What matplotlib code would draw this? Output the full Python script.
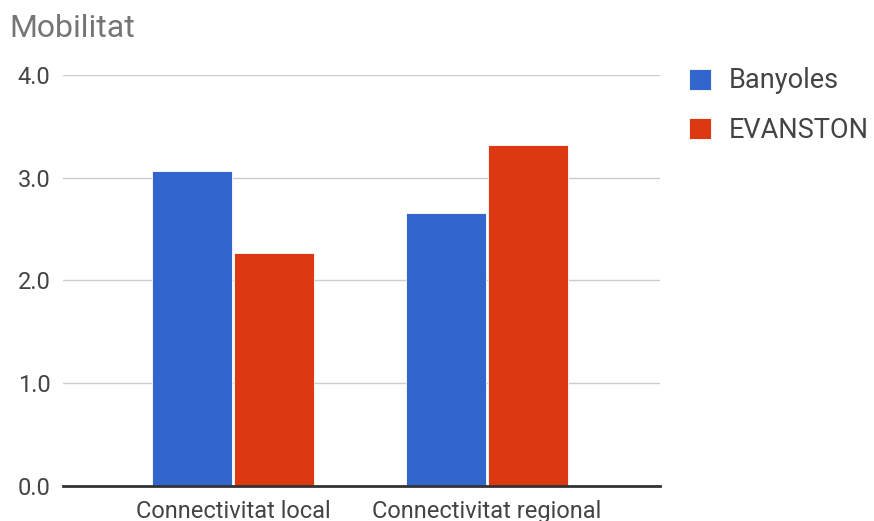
import matplotlib
matplotlib.use("Agg")
import matplotlib.pyplot as plt
import numpy as np

# Data
categories = ["Connectivitat local", "Connectivitat regional"]
series_names = ["Banyoles", "EVANSTON"]
banyoles = [3.07, 2.66]
evanston = [2.27, 3.32]
y_ticks = [0.0, 1.0, 2.0, 3.0, 4.0]
colors = ["#3366CC", "#DC3912"]

plt.rcParams["font.family"] = ["Roboto", "DejaVu Sans"]

fig = plt.figure(figsize=(8.74, 5.21), dpi=100)
ax = fig.add_axes([0.0721, 0.0678, 0.683, 0.788])

x = np.arange(len(categories))
width = 0.315
offset = 0.162
for i, (vals, name) in enumerate(zip([banyoles, evanston], series_names)):
    ax.bar(x + (i * 2 - 1) * offset, vals, width, color=colors[i],
           label=name, zorder=3, edgecolor="white", linewidth=0.6)

ax.set_xlim(-0.669, 1.681)
ax.set_ylim(0, 4)
ax.set_yticks(y_ticks)
ax.set_yticklabels([f"{v:.1f}" for v in y_ticks], fontsize=17, color="#444444")
ax.set_xticks(x)
ax.set_xticklabels(categories, fontsize=17, color="#444444")
ax.tick_params(axis="both", length=0)
ax.tick_params(axis="y", pad=9)
ax.tick_params(axis="x", pad=10)

ax.grid(axis="y", color="#cccccc", linewidth=1, zorder=0)
for s in ["top", "right", "left"]:
    ax.spines[s].set_visible(False)
ax.spines["bottom"].set_color("#333333")
ax.spines["bottom"].set_linewidth(2)
ax.spines["bottom"].set_zorder(4)

fig.text(0.011, 0.945, "Mobilitat", fontsize=23, color="#757575",
         ha="left", va="center")

leg = ax.legend(loc="upper left", bbox_to_anchor=(1.03, 1.045), frameon=False,
                fontsize=19.5, handlelength=0.81, handleheight=0.81,
                labelspacing=0.82, handletextpad=0.66, borderaxespad=0)
for t in leg.get_texts():
    t.set_color("#444444")

fig.savefig("out.png", dpi=100)
